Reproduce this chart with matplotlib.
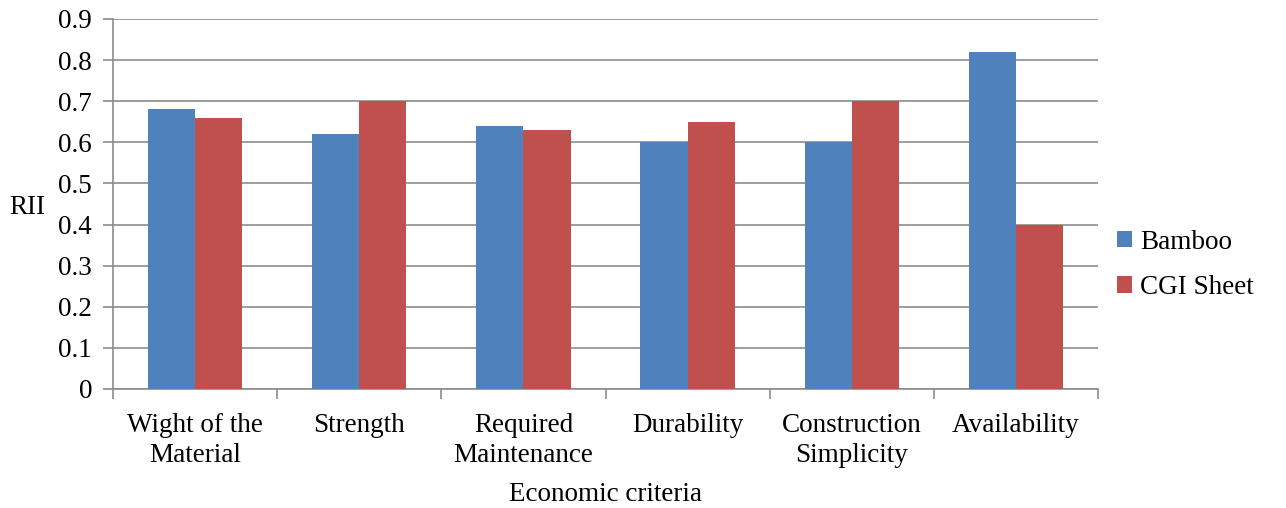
import numpy as np
import matplotlib.pyplot as plt
from matplotlib.ticker import MultipleLocator

plt.rcParams["font.family"] = ["Liberation Serif", "DejaVu Serif"]

criteria = ["Wight of the\nMaterial", "Strength", "Required\nMaintenance",
            "Durability", "Construction\nSimplicity", "Availability"]
bamboo = [0.68, 0.62, 0.64, 0.60, 0.60, 0.82]
cgi_sheet = [0.66, 0.70, 0.63, 0.65, 0.70, 0.40]

fig = plt.figure(figsize=(12.86, 5.08), dpi=100)
ax = fig.add_axes([0.0879, 0.2343, 0.7659, 0.7283])

x = np.arange(len(criteria))
w = 0.287
ax.bar(x - w / 2, bamboo, w, color="#4f81bd", label="Bamboo", zorder=3)
ax.bar(x + w / 2, cgi_sheet, w, color="#c0504d", label="CGI Sheet", zorder=3)

ax.set_xlim(-0.5, len(criteria) - 0.5)
ax.set_ylim(0, 0.9)
ax.yaxis.set_major_locator(MultipleLocator(0.1))
ax.yaxis.set_major_formatter(lambda v, pos: f"{round(v, 1):g}")
ax.grid(axis="y", color="#8c8c8c", linewidth=1.2, zorder=0)

# category labels centred, tick marks on the category boundaries
ax.set_xticks(x)
ax.set_xticklabels(criteria, fontsize=19.5, linespacing=1.3)
ax.tick_params(axis="x", length=0, pad=17)
ax.set_xticks(np.arange(-0.5, len(criteria)), minor=True)
ax.tick_params(axis="x", which="minor", length=7, width=1.2, color="#8c8c8c")
ax.tick_params(axis="y", length=7, width=1.2, color="#8c8c8c", labelsize=19.5, pad=8)

for s in ["top", "right"]:
    ax.spines[s].set_visible(False)
for s in ["left", "bottom"]:
    ax.spines[s].set_color("#8c8c8c")
    ax.spines[s].set_linewidth(1.2)

ax.set_ylabel("RII", fontsize=19.5, rotation=0, ha="center", va="center")
ax.yaxis.set_label_coords(-0.087, 0.49)
ax.set_xlabel("Economic criteria", fontsize=19.5, labelpad=10)

ax.legend(loc="center left", bbox_to_anchor=(0.995, 0.335), frameon=False,
          fontsize=19.5, handlelength=0.55, handleheight=0.55, handletextpad=0.3,
          labelspacing=0.75)

fig.savefig("out.png", dpi=100)
